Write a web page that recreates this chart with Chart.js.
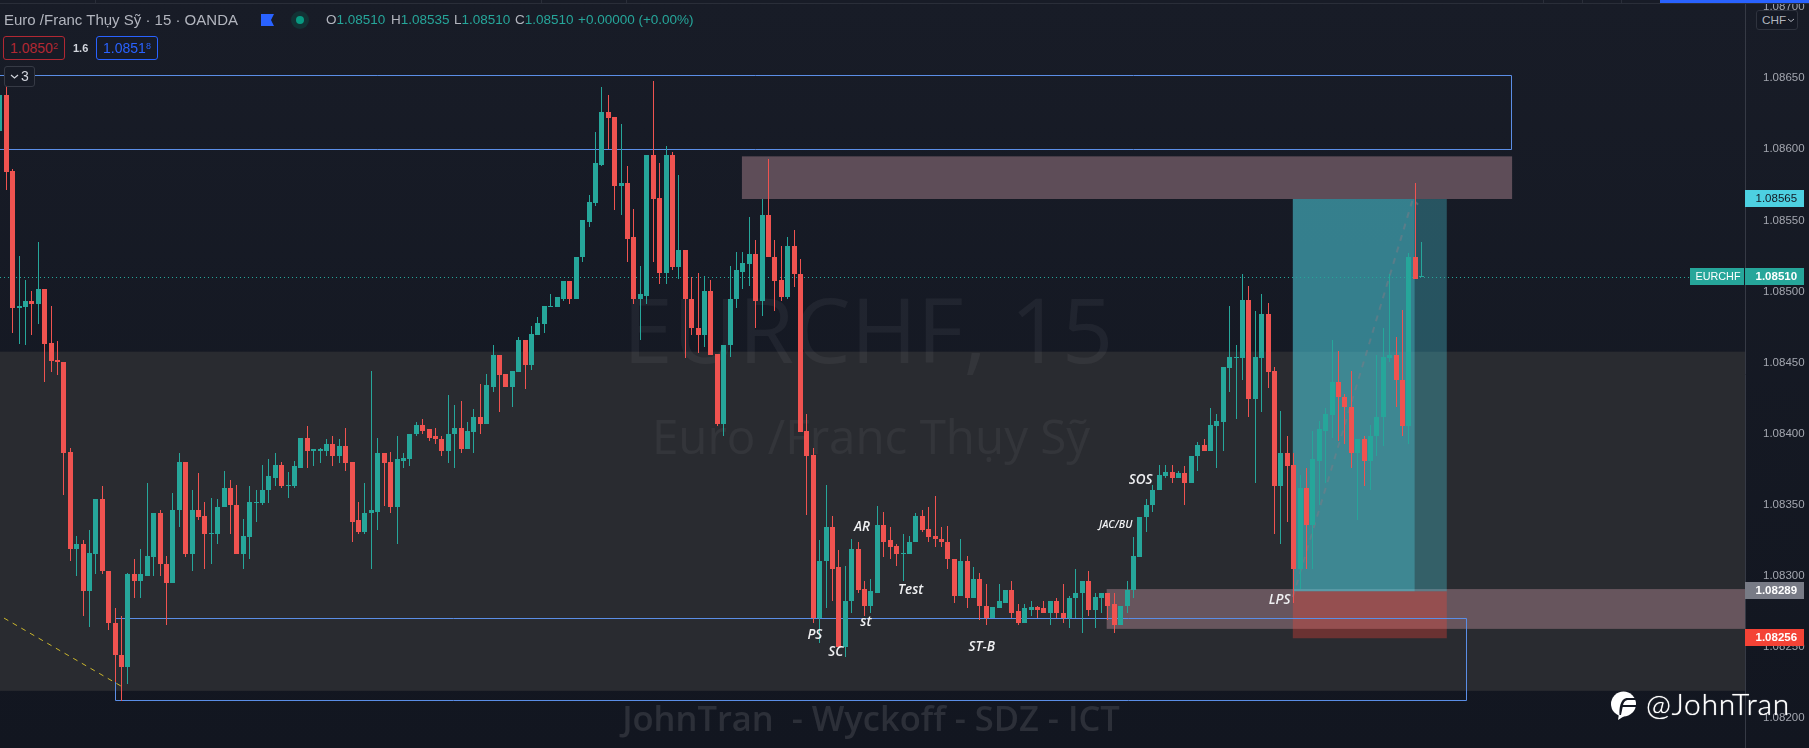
<!DOCTYPE html>
<html><head><meta charset="utf-8"><title>EURCHF 15</title>
<script src="https://cdn.jsdelivr.net/npm/chart.js@4"></script>
<style>
html,body{margin:0;padding:0;width:1809px;height:748px;overflow:hidden;background:linear-gradient(#181c27,#121620);}
canvas{position:absolute;left:0;top:0}
.t{position:absolute;white-space:nowrap;font-family:"Liberation Sans",Arial,sans-serif;line-height:1}
.chip{position:absolute;box-sizing:border-box;border-radius:3px;text-align:center;font-family:"Liberation Sans",sans-serif;font-size:14px;line-height:22px;background:#171b26}
.chip sup{font-size:9px;line-height:0;vertical-align:4px}
.d{position:absolute}
</style></head><body>
<canvas id="c" width="1809" height="748"></canvas>
<div class="d" style="left:0;top:3px;width:1809px;height:1px;background:#2a2e39"></div>
<div class="d" style="left:95px;top:0;width:1px;height:3px;background:#2a2e39"></div>
<div class="d" style="left:541px;top:0;width:1px;height:3px;background:#2a2e39"></div>
<div class="d" style="left:626px;top:0;width:1px;height:3px;background:#2a2e39"></div>
<div class="d" style="left:1543px;top:0;width:1px;height:3px;background:#2a2e39"></div>
<div class="d" style="left:1582px;top:0;width:1px;height:3px;background:#2a2e39"></div>
<div class="d" style="left:1621px;top:0;width:1px;height:3px;background:#2a2e39"></div>
<div class="d" style="left:1660px;top:0;width:149px;height:3px;background:#2962ff"></div>
<div class="t" style="left:4px;top:12px;font-size:15px;color:#b2b5be">Euro /Franc Thụy Sỹ · 15 · OANDA</div>
<svg class="d" style="left:261px;top:14px" width="13" height="12"><path d="M0 0H13L10 6L13 12H0Z" fill="#2962ff"/></svg>
<div class="d" style="left:291px;top:11px;width:18px;height:18px;border-radius:9px;background:#123234"></div>
<div class="d" style="left:296px;top:16px;width:8px;height:8px;border-radius:4px;background:#089981"></div>
<div class="t" style="left:326px;top:13px;font-size:13.5px;color:#b2b5be">O<span style="color:#26a69a">1.08510</span></div>
<div class="t" style="left:391px;top:13px;font-size:13.5px;color:#b2b5be">H<span style="color:#26a69a">1.08535</span></div>
<div class="t" style="left:454px;top:13px;font-size:13.5px;color:#b2b5be">L<span style="color:#26a69a">1.08510</span></div>
<div class="t" style="left:515px;top:13px;font-size:13.5px;color:#b2b5be">C<span style="color:#26a69a">1.08510</span></div>
<div class="t" style="left:578px;top:13px;font-size:13.5px;color:#26a69a">+0.00000 (+0.00%)</div>
<div class="chip" style="left:3px;top:36px;width:62px;height:24px;border:1px solid #b22833;color:#b22833">1.0850<sup>2</sup></div>
<div class="t" style="left:73px;top:43px;font-size:11px;font-weight:700;color:#d1d4dc">1.6</div>
<div class="chip" style="left:96px;top:36px;width:62px;height:24px;border:1px solid #2962ff;color:#2962ff">1.0851<sup>8</sup></div>
<div class="chip" style="left:4px;top:66px;width:31px;height:21px;border:1px solid #363a45;color:#d1d4dc;line-height:19px;text-align:left;padding-left:16px;font-size:14px">3<svg style="position:absolute;left:5px;top:7px" width="9" height="6"><path d="M1 1L4.5 4L8 1" fill="none" stroke="#d1d4dc" stroke-width="1.2"/></svg></div>
<div class="chip" style="left:1756px;top:10px;width:42px;height:20px;border:1px solid #2f333e;color:#b2b5be;font-size:11.8px;line-height:18px;background:#151924;text-align:left;padding-left:5px">CHF<svg style="position:absolute;left:30px;top:7px" width="8" height="5"><path d="M1 1L4 3.5L7 1" fill="none" stroke="#b2b5be" stroke-width="1"/></svg></div>
<svg class="d" style="left:1610px;top:691px" width="28" height="30" viewBox="0 0 28 30"><circle cx="13.5" cy="13" r="12.5" fill="#fff"/><path d="M9 23L8 29L16 24Z" fill="#fff"/><path d="M9.5 24C9 17 10.5 8 16.5 7H26V9H17.5C14.5 9.5 13.5 12 13 14H26V16H12.7C12 19 11.5 22 11 24Z" fill="#141823"/></svg>
<div class="t" style="left:1646px;top:688px;font-size:30px;letter-spacing:.7px;color:#fff;font-family:Lato,'Liberation Sans',sans-serif;font-weight:300;text-shadow:0 0 1px #fff">@JohnTran</div>
<script>
const opens=[1.08613,1.08638,1.08585,1.08488,1.08489,1.08493,1.08491,1.08502,1.08464,1.08452,
1.08450,1.08387,1.08319,1.08322,1.08289,1.08315,1.08354,1.08303,1.08267,1.08244,
1.08236,1.08301,1.08296,1.08300,1.08313,1.08344,1.08308,1.08295,1.08346,1.08380,
1.08315,1.08346,1.08342,1.08329,1.08329,1.08348,1.08362,1.08350,1.08315,1.08327,
1.08351,1.08351,1.08360,1.08369,1.08378,1.08363,1.08363,1.08376,1.08397,1.08388,
1.08388,1.08388,1.08393,1.08384,1.08391,1.08380,1.08339,1.08331,1.08344,1.08345,
1.08386,1.08380,1.08348,1.08381,1.08382,1.08400,1.08406,1.08403,1.08398,1.08396,
1.08388,1.08400,1.08404,1.08389,1.08401,1.08412,1.08407,1.08433,1.08455,1.08442,
1.08433,1.08443,1.08466,1.08448,1.08469,1.08477,1.08489,1.08489,1.08495,1.08507,
1.08495,1.08524,1.08549,1.08562,1.08589,1.08626,1.08623,1.08574,1.08576,1.08538,
1.08495,1.08497,1.08596,1.08566,1.08513,1.08596,1.08517,1.08529,1.08495,1.08474,
1.08469,1.08500,1.08456,1.08407,1.08462,1.08495,1.08514,1.08519,1.08526,1.08493,
1.08554,1.08524,1.08508,1.08496,1.08532,1.08512,1.08402,1.08385,1.08270,1.08310,
1.08334,1.08306,1.08250,1.08282,1.08319,1.08291,1.08279,1.08288,1.08336,1.08325,
1.08321,1.08315,1.08315,1.08324,1.08342,1.08333,1.08328,1.08326,1.08324,1.08312,
1.08286,1.08310,1.08284,1.08298,1.08279,1.08270,1.08277,1.08281,1.08290,1.08275,
1.08267,1.08276,1.08278,1.08277,1.08274,1.08282,1.08274,1.08270,1.08284,1.08288,
1.08296,1.08276,1.08284,1.08288,1.08280,1.08265,1.08279,1.08290,1.08313,1.08341,
1.08350,1.08360,1.08370,1.08373,1.08369,1.08372,1.08365,1.08384,1.08392,1.08388,
1.08405,1.08408,1.08446,1.08453,1.08453,1.08494,1.08424,1.08453,1.08484,1.08444,
1.08363,1.08386,1.08378,1.08305,1.08362,1.08336,1.08381,1.08402,1.08413,1.08436,
1.08426,1.08419,1.08386,1.08396,1.08381,1.08398,1.08412,1.08453,1.08455,1.08438,
1.08405,1.08524,1.08510];
const highs=[1.08640,1.08648,1.08586,1.08525,1.08508,1.08500,1.08535,1.08502,1.08490,1.08465,
1.08450,1.08390,1.08328,1.08325,1.08332,1.08354,1.08363,1.08303,1.08277,1.08272,
1.08302,1.08312,1.08319,1.08365,1.08344,1.08346,1.08314,1.08358,1.08386,1.08380,
1.08360,1.08372,1.08352,1.08355,1.08354,1.08374,1.08367,1.08364,1.08340,1.08363,
1.08360,1.08378,1.08382,1.08386,1.08380,1.08373,1.08381,1.08397,1.08405,1.08389,
1.08390,1.08396,1.08398,1.08396,1.08404,1.08380,1.08352,1.08365,1.08444,1.08397,
1.08386,1.08387,1.08398,1.08386,1.08400,1.08408,1.08410,1.08403,1.08404,1.08398,
1.08427,1.08420,1.08423,1.08408,1.08417,1.08435,1.08442,1.08462,1.08455,1.08442,
1.08444,1.08468,1.08466,1.08476,1.08482,1.08490,1.08498,1.08496,1.08507,1.08507,
1.08524,1.08550,1.08568,1.08612,1.08644,1.08638,1.08623,1.08618,1.08588,1.08558,
1.08518,1.08596,1.08648,1.08590,1.08602,1.08598,1.08582,1.08529,1.08510,1.08513,
1.08511,1.08508,1.08456,1.08462,1.08518,1.08528,1.08528,1.08552,1.08536,1.08565,
1.08593,1.08536,1.08532,1.08538,1.08543,1.08523,1.08414,1.08390,1.08325,1.08364,
1.08342,1.08318,1.08307,1.08326,1.08324,1.08296,1.08298,1.08349,1.08345,1.08334,
1.08322,1.08329,1.08328,1.08344,1.08346,1.08348,1.08356,1.08334,1.08335,1.08312,
1.08326,1.08314,1.08306,1.08302,1.08294,1.08278,1.08294,1.08290,1.08296,1.08280,
1.08280,1.08282,1.08279,1.08282,1.08282,1.08284,1.08294,1.08286,1.08305,1.08296,
1.08303,1.08288,1.08288,1.08288,1.08288,1.08279,1.08296,1.08327,1.08341,1.08354,
1.08364,1.08378,1.08378,1.08378,1.08374,1.08377,1.08384,1.08394,1.08396,1.08418,
1.08414,1.08447,1.08490,1.08462,1.08512,1.08504,1.08486,1.08498,1.08492,1.08447,
1.08416,1.08398,1.08386,1.08371,1.08376,1.08402,1.08409,1.08418,1.08466,1.08458,
1.08428,1.08444,1.08396,1.08398,1.08406,1.08455,1.08474,1.08512,1.08468,1.08487,
1.08527,1.08576,1.08535];
const lows=[1.08610,1.08571,1.08471,1.08463,1.08462,1.08469,1.08477,1.08436,1.08443,1.08441,
1.08357,1.08310,1.08300,1.08272,1.08264,1.08301,1.08301,1.08262,1.08225,1.08212,
1.08224,1.08284,1.08284,1.08300,1.08300,1.08300,1.08265,1.08295,1.08334,1.08313,
1.08303,1.08339,1.08305,1.08308,1.08322,1.08348,1.08329,1.08315,1.08305,1.08312,
1.08338,1.08350,1.08351,1.08363,1.08362,1.08355,1.08362,1.08376,1.08376,1.08377,
1.08379,1.08384,1.08377,1.08379,1.08374,1.08324,1.08329,1.08329,1.08305,1.08332,
1.08349,1.08344,1.08322,1.08376,1.08377,1.08398,1.08400,1.08395,1.08393,1.08384,
1.08379,1.08376,1.08386,1.08389,1.08386,1.08400,1.08407,1.08429,1.08415,1.08433,
1.08419,1.08443,1.08431,1.08445,1.08469,1.08471,1.08489,1.08489,1.08493,1.08491,
1.08495,1.08521,1.08545,1.08560,1.08588,1.08600,1.08557,1.08554,1.08521,1.08491,
1.08466,1.08491,1.08521,1.08505,1.08505,1.08515,1.08509,1.08453,1.08469,1.08457,
1.08461,1.08455,1.08405,1.08398,1.08454,1.08488,1.08502,1.08504,1.08474,1.08483,
1.08524,1.08486,1.08493,1.08495,1.08503,1.08401,1.08343,1.08267,1.08253,1.08277,
1.08282,1.08250,1.08243,1.08274,1.08288,1.08272,1.08274,1.08288,1.08313,1.08312,
1.08307,1.08296,1.08315,1.08324,1.08331,1.08324,1.08320,1.08320,1.08305,1.08281,
1.08286,1.08277,1.08284,1.08269,1.08265,1.08270,1.08277,1.08281,1.08270,1.08265,
1.08267,1.08272,1.08270,1.08274,1.08265,1.08270,1.08267,1.08263,1.08270,1.08260,
1.08272,1.08263,1.08274,1.08269,1.08260,1.08265,1.08274,1.08284,1.08313,1.08331,
1.08345,1.08360,1.08369,1.08365,1.08369,1.08350,1.08365,1.08374,1.08388,1.08388,
1.08376,1.08388,1.08429,1.08410,1.08438,1.08412,1.08365,1.08415,1.08432,1.08329,
1.08322,1.08338,1.08281,1.08291,1.08305,1.08305,1.08350,1.08365,1.08397,1.08395,
1.08393,1.08376,1.08339,1.08363,1.08360,1.08384,1.08391,1.08450,1.08419,1.08398,
1.08393,1.08509,1.08510];
const closes=[1.08638,1.08584,1.08488,1.08490,1.08493,1.08491,1.08502,1.08463,1.08451,1.08450,
1.08386,1.08319,1.08322,1.08289,1.08316,1.08354,1.08303,1.08267,1.08244,1.08236,
1.08301,1.08296,1.08301,1.08314,1.08344,1.08308,1.08295,1.08346,1.08380,1.08315,
1.08346,1.08341,1.08329,1.08330,1.08348,1.08362,1.08350,1.08315,1.08328,1.08352,
1.08352,1.08360,1.08370,1.08378,1.08363,1.08364,1.08377,1.08397,1.08388,1.08389,
1.08389,1.08393,1.08384,1.08391,1.08379,1.08338,1.08331,1.08344,1.08346,1.08386,
1.08379,1.08348,1.08382,1.08383,1.08400,1.08406,1.08402,1.08397,1.08396,1.08388,
1.08400,1.08404,1.08389,1.08402,1.08412,1.08407,1.08434,1.08455,1.08441,1.08433,
1.08444,1.08466,1.08448,1.08470,1.08478,1.08490,1.08490,1.08496,1.08507,1.08495,
1.08524,1.08550,1.08563,1.08590,1.08626,1.08622,1.08574,1.08576,1.08537,1.08495,
1.08498,1.08596,1.08565,1.08513,1.08596,1.08517,1.08529,1.08495,1.08474,1.08469,
1.08500,1.08455,1.08407,1.08462,1.08495,1.08515,1.08520,1.08526,1.08493,1.08554,
1.08524,1.08507,1.08496,1.08532,1.08512,1.08401,1.08384,1.08270,1.08310,1.08334,
1.08305,1.08250,1.08282,1.08319,1.08290,1.08279,1.08289,1.08336,1.08324,1.08320,
1.08315,1.08316,1.08324,1.08342,1.08332,1.08327,1.08326,1.08324,1.08312,1.08286,
1.08310,1.08284,1.08298,1.08279,1.08270,1.08278,1.08282,1.08290,1.08274,1.08267,
1.08277,1.08278,1.08276,1.08274,1.08282,1.08274,1.08270,1.08284,1.08288,1.08296,
1.08276,1.08285,1.08288,1.08279,1.08265,1.08279,1.08290,1.08314,1.08341,1.08350,
1.08360,1.08371,1.08373,1.08369,1.08372,1.08365,1.08384,1.08392,1.08388,1.08406,
1.08409,1.08447,1.08454,1.08454,1.08494,1.08424,1.08454,1.08484,1.08443,1.08363,
1.08386,1.08377,1.08305,1.08362,1.08336,1.08382,1.08403,1.08414,1.08436,1.08426,
1.08419,1.08386,1.08396,1.08381,1.08398,1.08412,1.08454,1.08455,1.08438,1.08405,
1.08524,1.08509,1.08510];
const yTicks=[1.087,1.0865,1.086,1.0855,1.085,1.0845,1.084,1.0835,1.083,1.0825,1.082];
const wyckoffTexts=["PS","SC","AR","st","Test","ST-B","JAC/BU","SOS","LPS"];
const wyckoffBars=[127.24,130.5,134.6,135.2,142.2,153.3,174.2,178.1,199.8];
const wyckoffPrices=[1.08258,1.08246,1.08334,1.08267,1.08290,1.08250,1.08336,1.08367,1.08283];
const wyckoffSizes=[13.5,13.5,13.5,13.5,13.5,13.5,10.5,13.5,13.5];

const UP='#26a69a',DOWN='#ef5350';
const up=opens.map((o,k)=>closes[k]>=o);
const colors=up.map(u=>u?UP:DOWN);

const drawings={id:'drawings',
 afterDatasetsUpdate(ch){
  ch.getSortedVisibleDatasetMetas().forEach(m=>m.data.forEach(el=>{
    el.x=Math.floor(el.x)+.5;
    el.y=Math.round(el.y);
    el.base=Math.round(el.base);
    if(el.y===el.base)el.base=el.y+1;
    el.height=el.base-el.y;
  }));
 },
 beforeDatasetsDraw(ch){
  const c=ch.ctx,x=ch.scales.x,y=ch.scales.y,a=ch.chartArea;
  const X=v=>x.getPixelForValue(v),Y=v=>y.getPixelForValue(v);
  const band=(x1,x2,p1,p2,col)=>{c.fillStyle=col;c.fillRect(X(x1),Y(p1),X(x2)-X(x1),Y(p2)-Y(p1));};
  c.save();
  band(x.min,x.max,1.084576,1.08219,'#292b30');
  c.textAlign='center';c.textBaseline='middle';
  c.fillStyle='rgba(255,255,255,.05)';
  c.font='90px "Open Sans"';c.fillText('EURCHF, 15',868,337);
  c.font='47.5px "Open Sans"';c.fillText('Euro /Franc Thụy Sỹ',871,440);
  c.fillStyle='rgba(255,255,255,.11)';
  c.font='600 34.5px "Open Sans"';c.fillText('JohnTran  - Wyckoff - SDZ - ICT',871,721);
  band(115.85,236.1,1.08595,1.08565,'rgba(158,122,135,.53)');
  band(172.8,x.max,1.082906,1.082626,'rgba(158,122,135,.53)');
  band(201.86,220.9,1.08565,1.08289,'rgba(80,212,228,.55)');
  band(220.9,225.9,1.08565,1.08289,'rgba(77,208,225,.32)');
  band(201.86,225.9,1.08289,1.08256,'rgba(244,67,54,.33)');
  c.strokeStyle='#5b8ee6';c.lineWidth=1;
  const rect=(x1,x2,p1,p2)=>{c.beginPath();
    c.rect(Math.round(X(x1))+.5,Math.round(Y(p1))+.5,Math.round(X(x2)-X(x1)),Math.round(Y(p2)-Y(p1)));c.stroke();};
  rect(x.min-2,236,1.08652,1.086);
  rect(18,228.9,1.0827,1.08212);
  c.strokeStyle='#26a69a';c.setLineDash([1,3]);
  c.beginPath();c.moveTo(0,Math.round(Y(1.0851))+.5);c.lineTo(1690,Math.round(Y(1.0851))+.5);c.stroke();
  c.strokeStyle='#c9b52c';c.setLineDash([5,5]);
  c.beginPath();c.moveTo(X(0.64),Y(1.082702));c.lineTo(X(19.17),Y(1.082217));c.stroke();
  c.strokeStyle='rgba(120,123,134,.55)';c.lineWidth=2;c.setLineDash([6,6]);
  c.beginPath();c.moveTo(X(201.86),Y(1.08285));c.lineTo(X(220.6),Y(1.08565));c.lineTo(X(221.4),Y(1.08561));c.stroke();
  c.restore();
 },
 afterDatasetsDraw(ch){
  const c=ch.ctx,x=ch.scales.x,y=ch.scales.y;
  c.save();
  c.textAlign='center';c.textBaseline='middle';c.fillStyle='#f0f1f3';
  wyckoffTexts.forEach((t,k)=>{
    c.font='italic 600 '+wyckoffSizes[k]+'px "Open Sans"';
    c.fillText(t,x.getPixelForValue(wyckoffBars[k]),y.getPixelForValue(wyckoffPrices[k]));
  });
  const tag=(p,text,bg,fg,bold)=>{
    const py=Math.round(y.getPixelForValue(p));
    c.fillStyle=bg;c.fillRect(1745,py-9,59,17);
    c.fillStyle=fg;c.textAlign='left';
    c.font=(bold?'700 ':'')+'11.5px "Liberation Sans"';
    c.fillText(text,1755.5,py);
  };
  tag(1.08565,'1.08565','#4dd0e1','#131722',false);
  tag(1.0851,'1.08510','#26a69a','#ffffff',true);
  tag(1.08289,'1.08289','#787b86','#ffffff',true);
  tag(1.08256,'1.08256','#f44336','#ffffff',true);
  const py=Math.round(y.getPixelForValue(1.0851));
  c.fillStyle='#26a69a';c.fillRect(1690,py-9,54,17);
  c.fillStyle='#fff';c.font='10.8px "Liberation Sans"';c.fillText('EURCHF',1695.5,py);
  c.restore();
 }};

new Chart(document.getElementById('c'),{
 type:'bar',
 data:{datasets:[
  {label:'body',data:opens.map((o,k)=>({x:k,y:[o,closes[k]]})),backgroundColor:colors,barThickness:5,minBarLength:1,grouped:false,inflateAmount:0,order:1},
  {label:'wick',data:lows.map((l,k)=>({x:k,y:[l,highs[k]]})),backgroundColor:colors,barThickness:1,grouped:false,inflateAmount:0,order:2}
 ]},
 options:{responsive:false,animation:false,events:[],
  layout:{padding:0},
  plugins:{legend:{display:false},tooltip:{enabled:false},title:{display:false}},
  scales:{
   x:{type:'linear',offset:false,min:0.016,max:272.46,display:false,grid:{display:false}},
   y:{type:'linear',position:'right',min:1.081788,max:1.08705,
    grid:{display:false},border:{display:true,color:'#363a45'},
    ticks:{color:'#a3a6af',padding:10,font:{family:'"Liberation Sans"',size:11.5},callback:v=>v.toFixed(5)},
    afterBuildTicks(s){s.ticks=yTicks.map(v=>({value:v}));},
    afterFit(s){s.width=64;s.paddingTop=0;s.paddingBottom=0;}
   }
  }
 },
 plugins:[drawings]
});
</script>
</body></html>
